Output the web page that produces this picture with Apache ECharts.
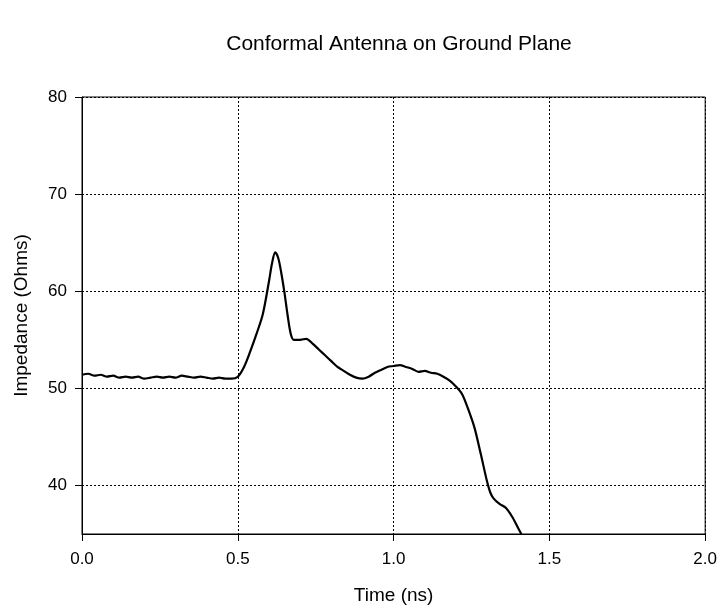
<!DOCTYPE html>
<html>
<head>
<meta charset="utf-8">
<script src="https://cdn.jsdelivr.net/npm/echarts@6/dist/echarts.min.js"></script>
<style>
html,body{margin:0;padding:0;background:#fff;}
#chart{width:720px;height:614px;}
</style>
</head>
<body>
<div id="chart"></div>
<script>
const titleText = 'Conformal Antenna on Ground Plane';
const xName = 'Time (ns)';
const yName = 'Impedance (Ohms)';
const timeNs = [0.00,0.02,0.04,0.06,0.08,0.10,0.12,0.14,0.16,0.18,0.20,0.22,0.24,0.26,0.28,0.30,0.32,0.34,0.36,0.38,0.40,0.42,0.44,0.46,0.48,0.50,0.52,0.54,0.56,0.58,0.60,0.61,0.62,0.63,0.64,0.65,0.66,0.67,0.68,0.70,0.72,0.74,0.76,0.78,0.80,0.82,0.84,0.86,0.88,0.90,0.92,0.94,0.96,0.98,1.00,1.02,1.04,1.06,1.08,1.10,1.12,1.14,1.16,1.18,1.20,1.22,1.24,1.26,1.28,1.30,1.31,1.32,1.34,1.36,1.38,1.40,1.41];
const impedance = [51.4,51.5,51.3,51.4,51.2,51.3,51.1,51.2,51.1,51.2,51.0,51.1,51.2,51.1,51.2,51.1,51.3,51.2,51.1,51.2,51.1,51.0,51.1,51.0,51.0,51.2,52.2,53.8,55.6,57.6,61.0,62.9,64.0,63.4,61.8,59.8,57.5,55.6,55.0,55.0,55.1,54.6,54.0,53.4,52.8,52.2,51.8,51.4,51.1,51.0,51.2,51.6,51.9,52.2,52.3,52.4,52.2,52.0,51.7,51.8,51.6,51.5,51.2,50.8,50.2,49.4,47.8,45.9,43.2,40.4,39.3,38.7,38.1,37.7,36.8,35.6,35.0];
const xTicks = {min:0, max:2, interval:0.5};
const yRange = {min:35, max:80};
const yTickValues = [40,50,60,70,80];

const chart = echarts.init(document.getElementById('chart'), null, {renderer:'canvas'});
const font = 'Liberation Sans';
const dotted = {color:'#000', width:1, type:[2,2]};
chart.setOption({
  animation:false,
  backgroundColor:'#fff',
  title:{text:titleText, left:394, top:29, textAlign:'center',
    textStyle:{fontFamily:font, fontSize:21, fontWeight:'normal', color:'#000'}},
  grid:{left:82, right:14, top:97, bottom:80, show:true, borderColor:'#000', borderWidth:1, backgroundColor:'transparent'},
  xAxis:{type:'value', min:xTicks.min, max:xTicks.max, interval:xTicks.interval,
    name:xName, nameLocation:'middle', nameGap:52,
    nameTextStyle:{fontFamily:font, fontSize:19, color:'#000'},
    axisLine:{lineStyle:{color:'#000', width:1}},
    axisTick:{show:true, length:7, inside:false, lineStyle:{color:'#000'}},
    axisLabel:{fontFamily:font, fontSize:17, color:'#000', margin:17, formatter:v=>v.toFixed(1)},
    splitLine:{show:true, lineStyle:dotted}},
  yAxis:{type:'value', min:yRange.min, max:yRange.max, interval:5,
    name:yName, nameLocation:'middle', nameGap:51, nameRotate:90,
    nameTextStyle:{fontFamily:font, fontSize:19, color:'#000'},
    axisLine:{show:true, lineStyle:{color:'#000', width:1}},
    axisTick:{show:true, length:7, customValues:yTickValues, lineStyle:{color:'#000'}},
    axisLabel:{fontFamily:font, fontSize:17, color:'#000', margin:15, customValues:yTickValues, formatter:v=>String(v)},
    splitLine:{show:true, lineStyle:dotted}},
  series:[{type:'line', data:timeNs.map((t,i)=>[t, impedance[i]]), showSymbol:false, symbol:'none',
    lineStyle:{color:'#000', width:2.2}, smooth:0.3}]
});
</script>
</body>
</html>
